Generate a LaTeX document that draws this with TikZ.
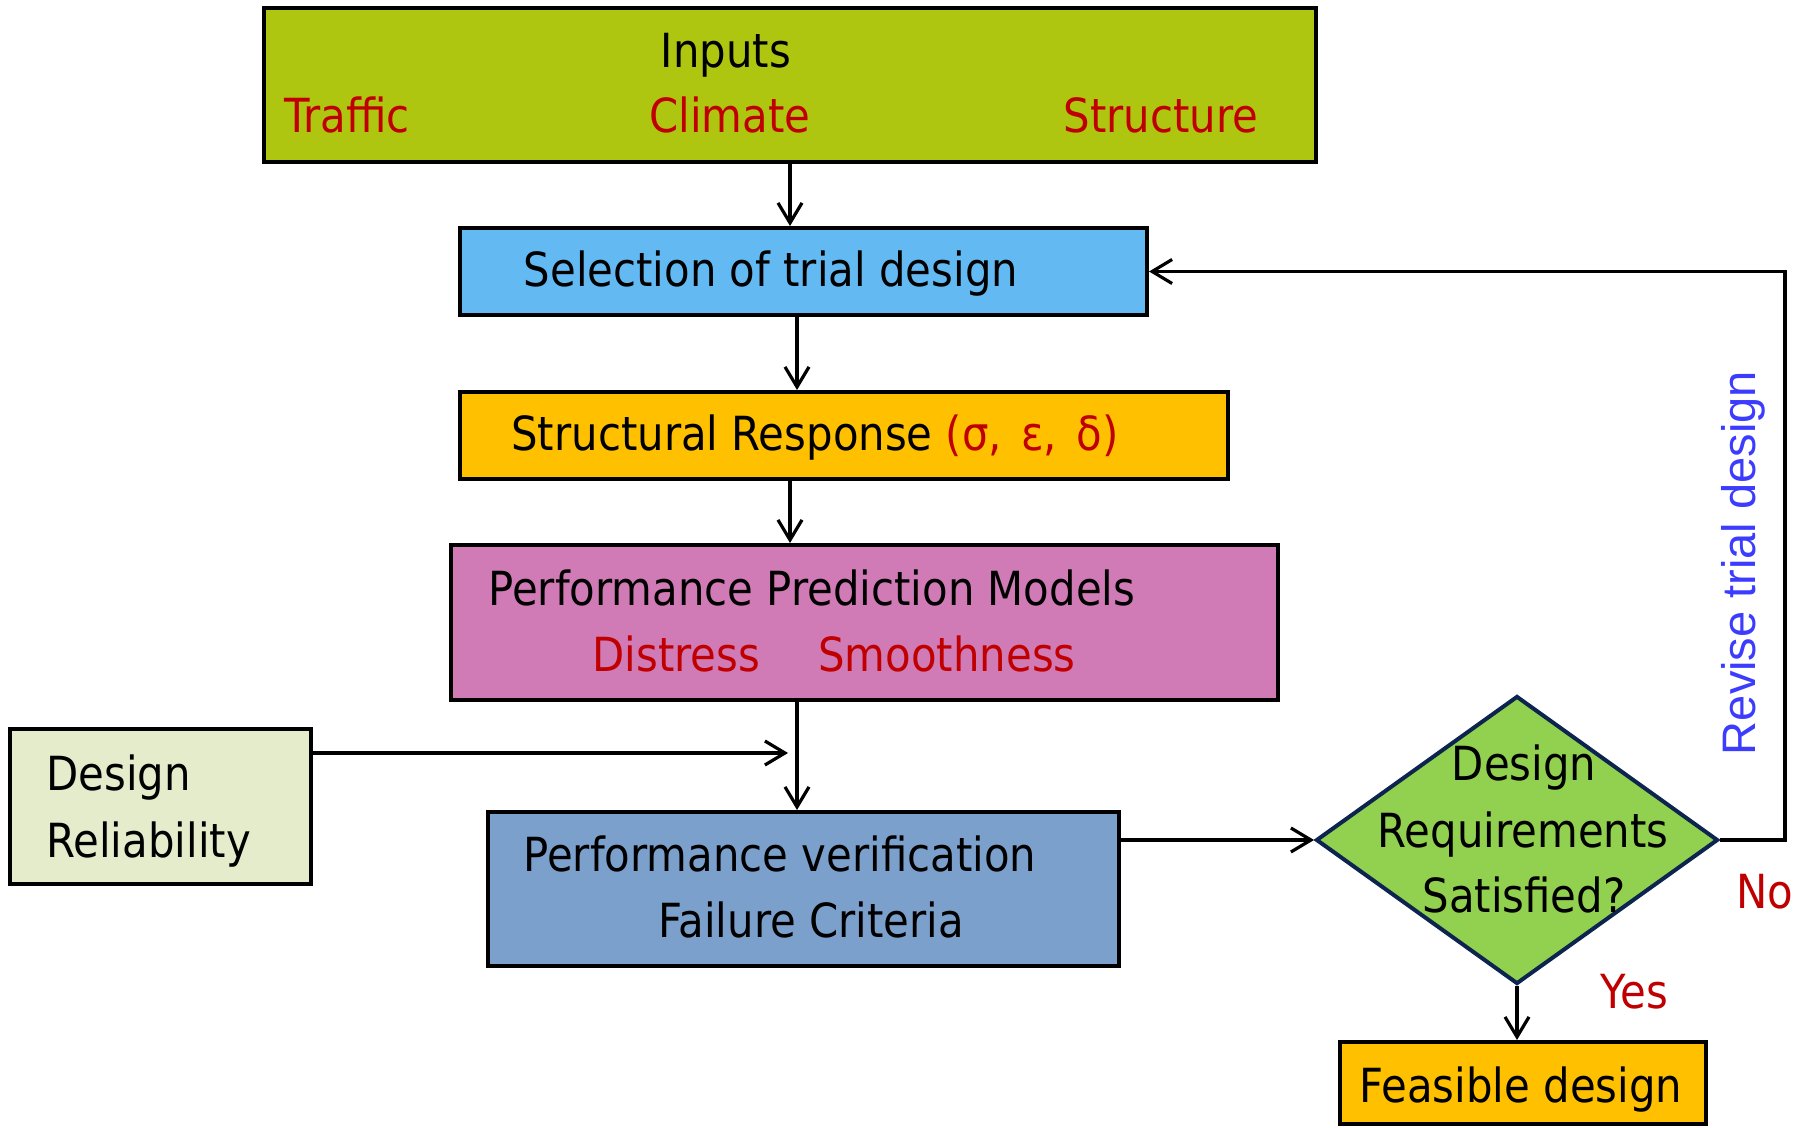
\documentclass[tikz,border=0pt]{standalone}
\usepackage{fontspec}
\setmainfont{DejaVu Sans}[FakeStretch=0.89]
\newfontfamily\arialf{Liberation Sans}
\usetikzlibrary{shapes.geometric,arrows.meta}
\definecolor{cInputs}{RGB}{174,198,16}
\definecolor{cSelect}{RGB}{99,186,243}
\definecolor{cOrange}{RGB}{255,192,0}
\definecolor{cPink}{RGB}{208,122,182}
\definecolor{cRel}{RGB}{228,236,203}
\definecolor{cPV}{RGB}{123,160,204}
\definecolor{cDia}{RGB}{146,208,80}
\definecolor{cNavy}{RGB}{12,36,78}
\definecolor{cRed}{RGB}{192,0,0}
\definecolor{cBlue}{RGB}{60,60,255}
\begin{document}
\begin{tikzpicture}[x=0.5pt,y=-0.5pt,
  box/.style={draw=black, line width=2pt, inner sep=0pt, rectangle},
  txt/.style={inner sep=0pt, font=\fontsize{23.5pt}{28pt}\selectfont},
  redtxt/.style={txt, text=cRed},
  arr/.style={line width=1.6pt, -{Straight Barb[length=10pt,width=12pt,line width=1.6pt]}}]
\useasboundingbox (0,0) rectangle (1810,1128);
% boxes
\node[box, fill=cInputs, minimum width=526pt, minimum height=77pt] (inputs) at (790,85) {};
\node[box, fill=cSelect, minimum width=343.5pt, minimum height=43.5pt] (select) at (803.5,271.5) {};
\node[box, fill=cOrange, minimum width=384pt, minimum height=43.5pt] (struct) at (844,435.5) {};
\node[box, fill=cPink, minimum width=413.5pt, minimum height=77.5pt] (ppm) at (864.5,622.5) {};
\node[box, fill=cRel, minimum width=150.5pt, minimum height=77.5pt] (rel) at (160.5,806.5) {};
\node[box, fill=cPV, minimum width=315.5pt, minimum height=77pt] (pv) at (803.5,889) {};
\node[diamond, draw=cNavy, fill=cDia, line width=2pt, inner sep=0pt, minimum width=201pt, minimum height=144pt] (dia) at (1517,840) {};
\node[box, fill=cOrange, minimum width=183pt, minimum height=41pt] (feas) at (1523,1083) {};
% texts
\node[txt, anchor=base] (tInputs) at (726,68) {Inputs};
\node[redtxt, anchor=base] (tTraffic) at (347,133) {Traffic};
\node[redtxt, anchor=base] (tClimate) at (730,133) {Climate};
\node[redtxt, anchor=base] (tStructure) at (1161,133) {Structure};
\node[txt, anchor=base] (tSelect) at (771,287) {Selection of trial design};
\node[txt, anchor=base west] (tStruct) at (511,451) {Structural Response \textcolor{cRed}{(σ,\hspace{3pt} ε,\hspace{3pt} δ)}};
\node[txt, anchor=base west] (tPPM) at (488,605) {Performance Prediction Models};
\node[redtxt, anchor=base west] (tDistress) at (592,671) {Distress};
\node[redtxt, anchor=base west] (tSmooth) at (818,671) {Smoothness};
\node[txt, anchor=base west] (tDesign) at (46,790) {Design};
\node[txt, anchor=base west] (tReliab) at (46,857) {Reliability};
\node[txt, anchor=base west] (tPV) at (523,871) {Performance verification};
\node[txt, anchor=base west] (tFail) at (658,937) {Failure Criteria};
\node[txt, anchor=base] (tD1) at (1524,780) {Design};
\node[txt, anchor=base] (tD2) at (1523,847) {Requirements};
\node[txt, anchor=base] (tD3) at (1524,912) {Satisfied?};
\node[redtxt, anchor=base west] (tNo) at (1736,908) {No};
\node[redtxt, anchor=base west] (tYes) at (1600,1008) {Yes};
\node[txt, anchor=base] (tFeas) at (1521,1102) {Feasible design};
\node[inner sep=0pt, rotate=90, anchor=base, text=cBlue, font=\arialf\fontsize{23.5pt}{28pt}\selectfont] (tRevise) at (1755,563) {Revise trial design};
% helper coordinates
\coordinate (xb) at (797,0);
\coordinate (relend) at (788,753);
\coordinate (loop) at (1785,271.5);
% connectors
\draw[arr] (inputs.south) -- (inputs.south |- select.north);
\draw[arr] (select.south -| xb) -- (struct.north -| xb);
\draw[arr] (struct.south -| inputs.south) -- (ppm.north -| inputs.south);
\draw[arr] (ppm.south -| xb) -- (pv.north -| xb);
\draw[arr] (rel.east |- relend) -- (relend);
\draw[arr] (pv.east |- dia.west) -- (dia.west);
\draw[arr] (dia.south) -- (feas.north -| dia.south);
\draw[arr] (dia.east) -| (loop) -- (select.east);
\end{tikzpicture}
\end{document}
